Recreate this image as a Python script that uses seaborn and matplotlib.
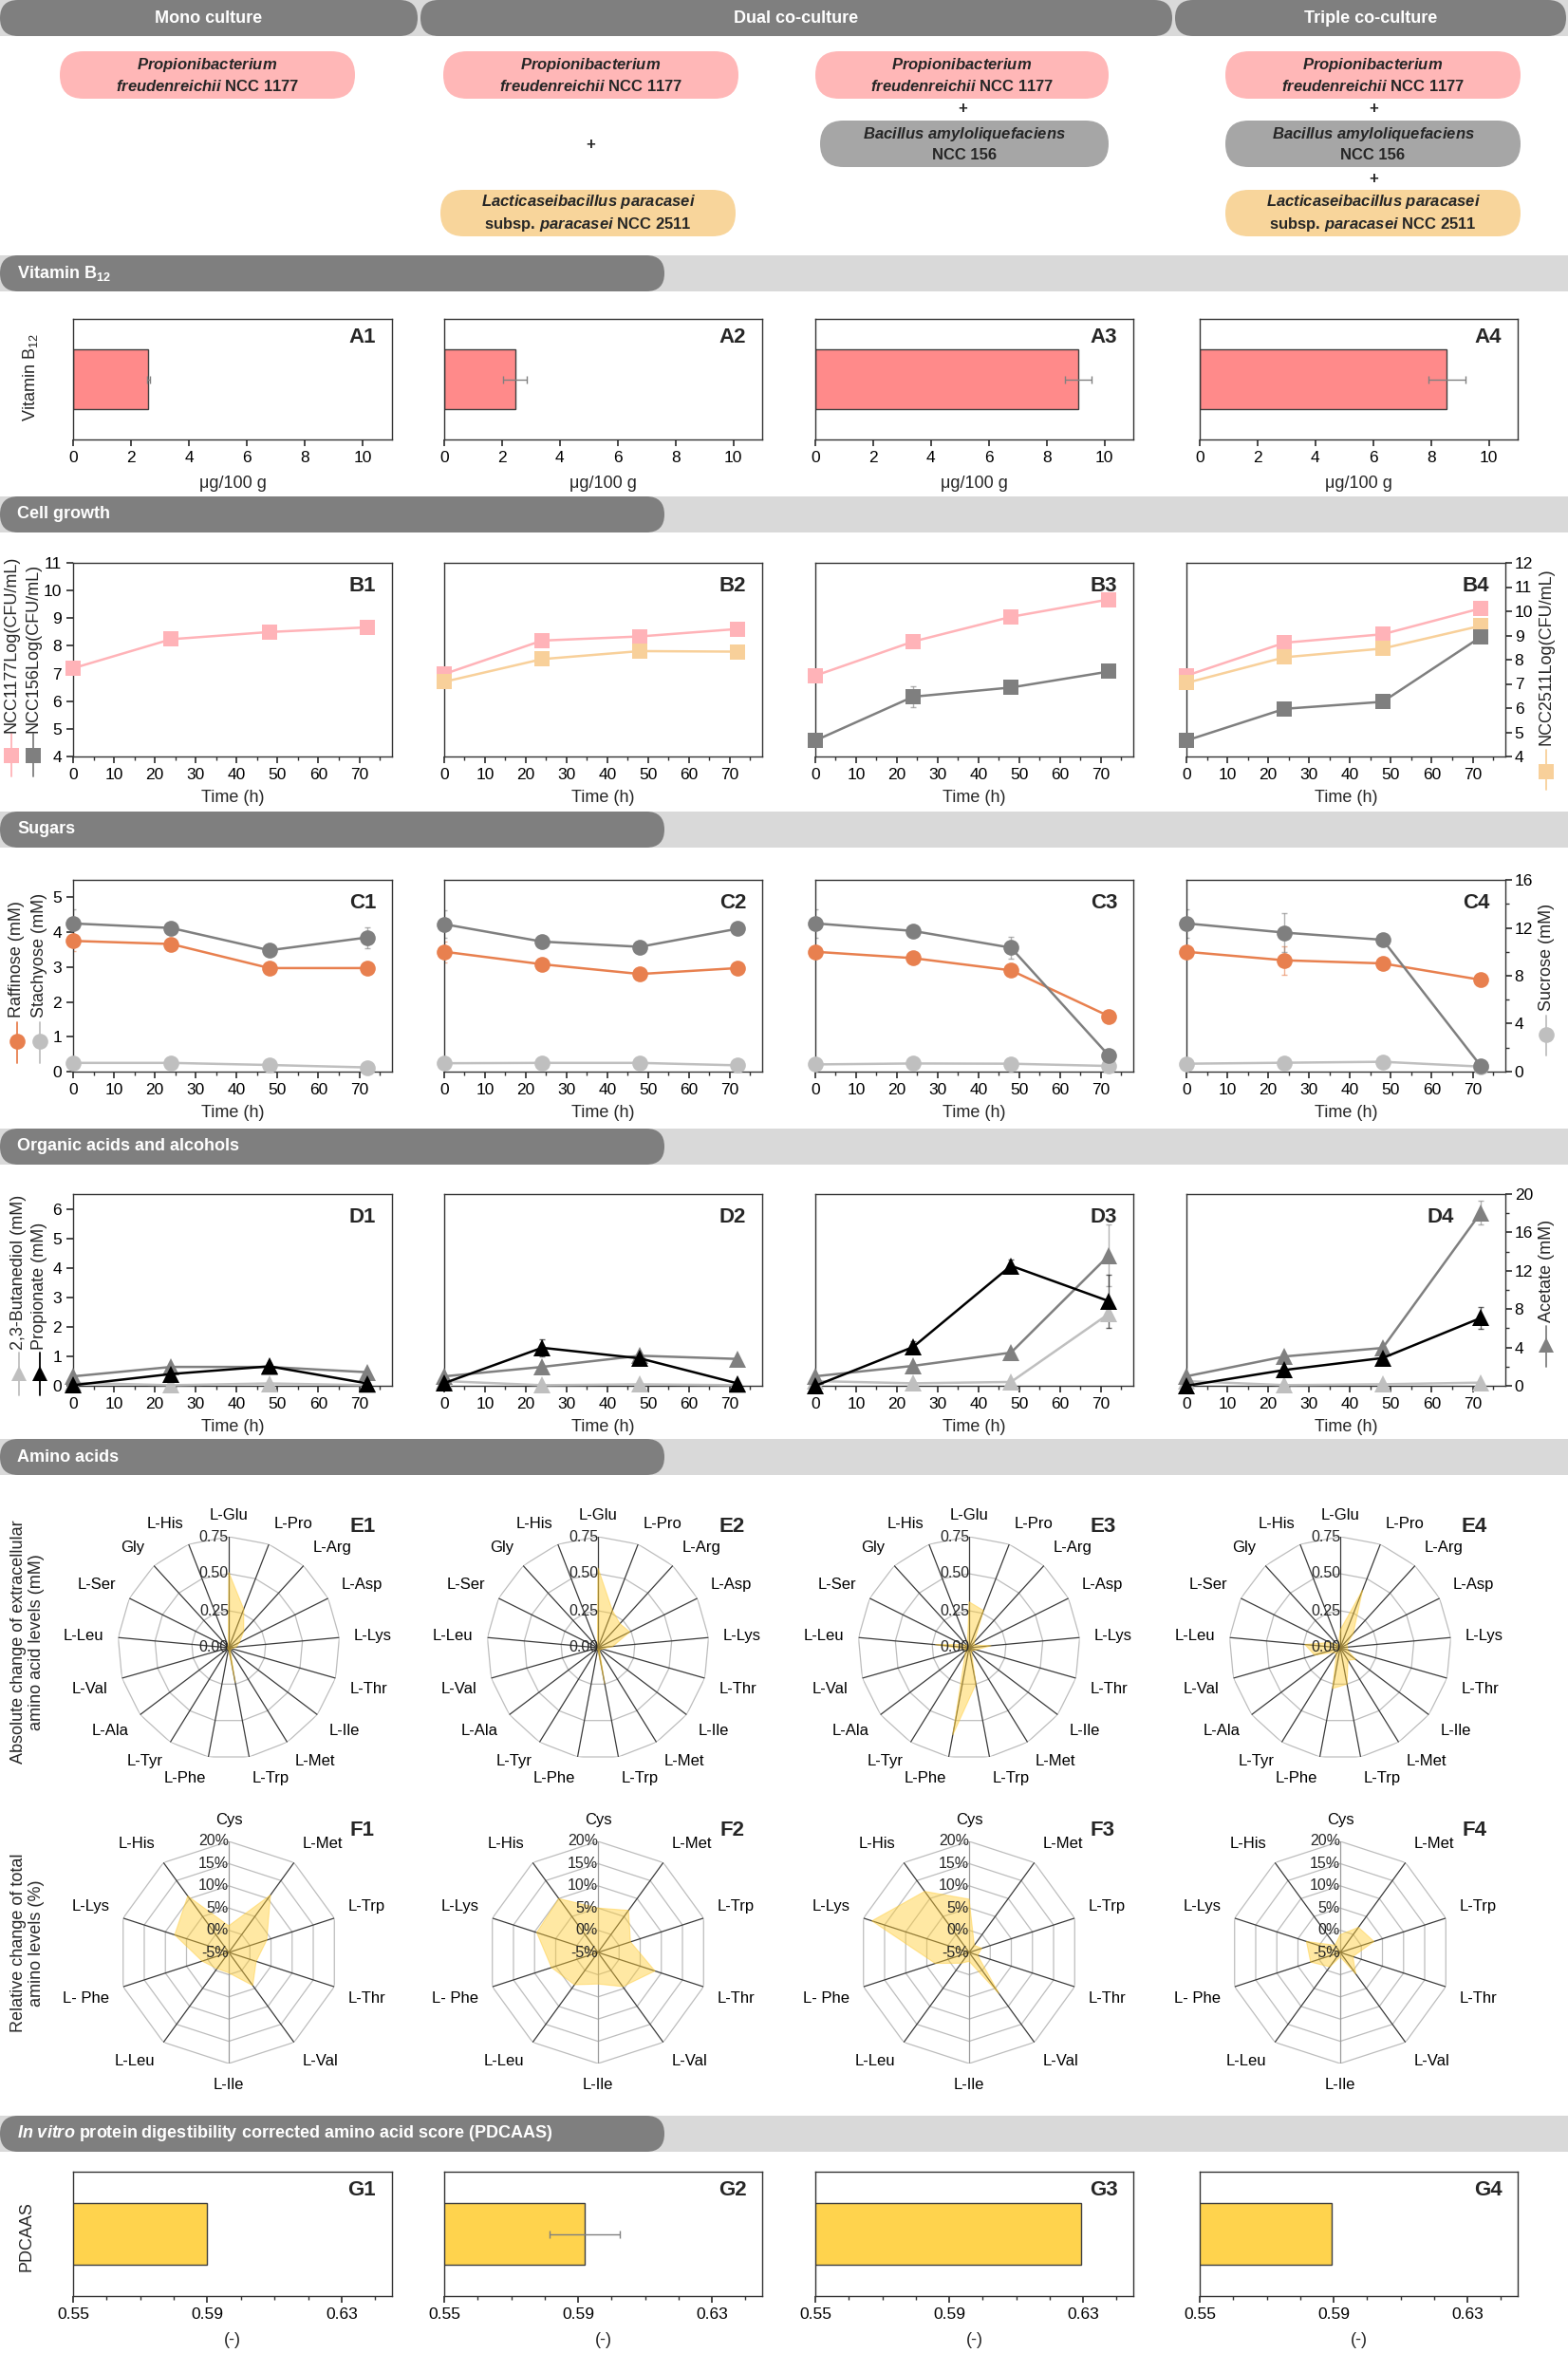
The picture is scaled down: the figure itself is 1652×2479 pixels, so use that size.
import numpy as np
import pandas as pd
import matplotlib
matplotlib.use("Agg")
import matplotlib.pyplot as plt
import seaborn as sns
from matplotlib.patches import FancyBboxPatch, Rectangle
from matplotlib.ticker import MultipleLocator, NullLocator, FormatStrFormatter

# ---------------- values ----------------
times = [0, 24, 48, 72]

# vitamin B12 (ug/100 g)
b12 = [2.6, 2.45, 9.1, 8.55]
b12_sd = [0.05, 0.4, 0.45, 0.65]

# cell growth, log CFU/mL
ncc1177 = [[7.19, 8.24, 8.50, 8.67], [6.98, 8.19, 8.34, 8.61],
           [7.34, 8.75, 9.77, 10.49], [7.34, 8.70, 9.05, 10.12]]
ncc156 = [None, None, [4.66, 6.47, 6.85, 7.51], [4.66, 5.97, 6.26, 8.94]]
ncc156_sd = [None, None, [0, 0.45, 0, 0], [0, 0, 0, 0]]
ncc2511 = [None, [6.70, 7.52, 7.81, 7.79], None, [7.04, 8.10, 8.46, 9.40]]

# sugars, mM
raffinose = [[3.75, 3.66, 2.97, 2.97], [3.44, 3.08, 2.80, 2.97],
             [10.0, 9.47, 8.45, 4.63], [10.0, 9.29, 9.03, 7.66]]
raffinose_sd = [[0.3, 0, 0, 0], [0.3, 0, 0, 0], [0.5, 0, 0, 0], [0.5, 1.2, 0.5, 0.5]]
stachyose = [[4.25, 4.12, 3.48, 3.85], [4.23, 3.73, 3.58, 4.10],
             [12.37, 11.74, 10.34, 1.34], [12.37, 11.60, 11.0, 0.47]]
stachyose_sd = [[0.4, 0, 0, 0.3], [0.4, 0, 0, 0], [1.2, 0, 0.9, 0], [1.2, 1.6, 0, 0]]
sucrose = [[0.25, 0.25, 0.19, 0.12], [0.24, 0.25, 0.25, 0.18],
           [0.60, 0.68, 0.66, 0.47], [0.66, 0.74, 0.82, 0.42]]

# organic acids and alcohols, mM
propionate = [[0.02, 0.40, 0.66, 0.08], [0.09, 1.29, 0.93, 0.08],
              [0.0, 4.05, 12.52, 8.83], [0.0, 1.65, 2.90, 7.08]]
propionate_sd = [[0, 0, 0, 0], [0, 0.3, 0, 0], [0, 0.6, 0.6, 2.8], [0, 0, 0.3, 1.1]]
acetate = [[0.32, 0.64, 0.64, 0.46], [0.32, 0.64, 1.02, 0.91],
           [0.99, 2.08, 3.46, 13.6], [0.99, 3.06, 3.95, 18.06]]
acetate_sd = [[0, 0, 0, 0], [0, 0, 0, 0], [0, 0, 0, 3.2], [0, 0, 0, 1.2]]
butanediol = [[0.10, 0.02, 0.08, 0.02], [0.16, 0.02, 0.05, 0.02],
              [0.49, 0.26, 0.40, 7.51], [0.49, 0.07, 0.16, 0.33]]

# amino acids: absolute change (mM)
aa_abs = ["L-Glu", "L-Pro", "L-Arg", "L-Asp", "L-Lys", "L-Thr", "L-Ile", "L-Met", "L-Trp",
          "L-Phe", "L-Tyr", "L-Ala", "L-Val", "L-Leu", "L-Ser", "Gly", "L-His"]
abs_e1 = [0.51, 0.28, 0.15, 0.08, 0.05, 0.02, 0.02, 0.02, 0.24, 0.01, 0.01, 0.01, 0.01, 0.01, 0.01, 0.01, 0.01]
abs_e2 = [0.54, 0.27, 0.22, 0.24, 0.10, 0.03, 0.02, 0.02, 0.25, 0.01, 0.01, 0.01, 0.01, 0.01, 0.01, 0.01, 0.01]
abs_e3 = [0.31, 0.27, 0.05, 0.04, 0.15, 0.05, 0.03, 0.03, 0.25, 0.60, 0.05, 0.03, 0.03, 0.23, 0.05, 0.02, 0.03]
abs_e4 = [0.12, 0.42, 0.13, 0.05, 0.05, 0.05, 0.13, 0.10, 0.25, 0.28, 0.05, 0.05, 0.18, 0.24, 0.08, 0.03, 0.03]

# amino acids: relative change of total levels (%)
aa_rel = ["Cys", "L-Met", "L-Trp", "L-Thr", "L-Val", "L-Ile", "L-Leu", "L- Phe", "L-Lys", "L-His"]
rel_f1 = [1.0, 11.0, 4.0, 1.5, 4.2, -0.4, -0.5, 1.3, 7.8, 10.7]
rel_f2 = [5.0, 6.7, 2.7, 8.5, 4.5, 2.1, 4.0, 6.0, 9.5, 10.0]
rel_f3 = [7.0, -3.0, -2.0, -3.0, 6.5, -3.0, -2.0, 3.0, 18.0, 12.0]
rel_f4 = [-1.0, 2.0, 3.0, -2.0, 1.0, -4.0, -1.0, 2.0, 3.0, -3.0]

# PDCAAS (-)
pdcaas = [0.590, 0.592, 0.6295, 0.5895]
pdcaas_sd = [0, 0.0105, 0, 0]

# ---------------- style ----------------
sns.set_theme(style="ticks")
plt.rcParams['font.family'] = ['Liberation Sans', 'DejaVu Sans']
plt.rcParams['mathtext.fontset'] = 'custom'
plt.rcParams['mathtext.rm'] = 'Liberation Sans'
plt.rcParams['mathtext.it'] = 'Liberation Sans:italic'
plt.rcParams['mathtext.bf'] = 'Liberation Sans:bold'
plt.rcParams['mathtext.bfit'] = 'Liberation Sans:italic:bold'
plt.rcParams.update({'axes.edgecolor': '#333333', 'axes.linewidth': 1.0,
                     'xtick.major.size': 5, 'ytick.major.size': 5,
                     'xtick.minor.size': 3, 'ytick.minor.size': 3,
                     'xtick.color': '#333333', 'ytick.color': '#333333',
                     'xtick.labelcolor': 'black', 'ytick.labelcolor': 'black'})

PINK, DGRAY, ORNG = '#FFB3B8', '#7F7F7F', '#F8D09A'
RAFF, LGRAY, MGRAY = '#E8804F', '#BFBFBF', '#808080'
W, H = 1652, 2479

fig = plt.figure(figsize=(W / 100, H / 100), dpi=100)
ov = fig.add_axes([0, 0, 1, 1])
ov.set_xlim(0, W)
ov.set_ylim(H, 0)
ov.axis('off')


def add_ax(x0, y0, x1, y1, **kw):
    return fig.add_axes([x0 / W, 1 - y1 / H, (x1 - x0) / W, (y1 - y0) / H], **kw)


def pill(x0, y0, x1, y1, color):
    h = y1 - y0
    ov.add_patch(FancyBboxPatch((x0, y0), x1 - x0, h, boxstyle=f"round,pad=0,rounding_size={h / 2}",
                                fc=color, ec='none'))


# ---------------- header ----------------
ov.add_patch(Rectangle((0, 0), W, 38, fc='#D9D9D9', ec='none'))
for (x0, x1), txt in zip([(0, 440), (443, 1235), (1238, 1650)],
                         ["Mono culture", "Dual co-culture", "Triple co-culture"]):
    pill(x0, 0, x1, 38, DGRAY)
    ov.text((x0 + x1) / 2, 19, txt, color='white', fontweight='bold', fontsize=13, ha='center', va='center')

P_FR = "$\\mathbfit{Propionibacterium}$\n$\\mathbfit{freudenreichii}$ NCC 1177"
L_PC = "$\\mathbfit{Lacticaseibacillus\\ paracasei}$\nsubsp. $\\mathbfit{paracasei}$ NCC 2511"
B_AM = "$\\mathbfit{Bacillus\\ amyloliquefaciens}$\nNCC 156"
boxes = [(63, 54, 374, 104, '#FFB7B7', P_FR),
         (467, 54, 778, 104, '#FFB7B7', P_FR), (464, 200, 775, 249, '#F8D59B', L_PC),
         (859, 54, 1168, 104, '#FFB7B7', P_FR), (864, 127, 1168, 176, '#A6A6A6', B_AM),
         (1291, 54, 1602, 104, '#FFB7B7', P_FR), (1291, 127, 1602, 176, '#A6A6A6', B_AM),
         (1291, 200, 1602, 249, '#F8D59B', L_PC)]
for x0, y0, x1, y1, c, txt in boxes:
    pill(x0, y0, x1, y1, c)
    ov.text((x0 + x1) / 2, (y0 + y1) / 2, txt, fontsize=12, fontweight='bold', ha='center',
            va='center', multialignment='center', linespacing=1.35)
for x, y in [(622, 153), (1014, 115), (1447, 115), (1447, 189)]:
    ov.text(x, y, "+", fontsize=12, fontweight='bold', ha='center', va='center')

sections = [("Vitamin B$_\\mathbf{12}$", 269, 307), ("Cell growth", 523, 561), ("Sugars", 855, 893),
            ("Organic acids and alcohols", 1189, 1227), ("Amino acids", 1516, 1554),
            ("$\\mathbfit{In\\ vitro}$ protein digestibility corrected amino acid score (PDCAAS)", 2229, 2267)]
for txt, y0, y1 in sections:
    ov.add_patch(Rectangle((0, y0), W, y1 - y0, fc='#D9D9D9', ec='none'))
    pill(0, y0, 700, y1, DGRAY)
    ov.text(18, (y0 + y1) / 2, txt, color='white', fontweight='bold', fontsize=13, va='center')

cols = [(77, 413), (468, 803), (859, 1194), (1264, 1599)]
# the time-course panels of the last column sit a bit further left (room for the right axis)
tcols = [(77, 413), (468, 803), (859, 1194), (1250, 1586)]


def tag(ax, s, x=0.95):
    ax.text(x, 0.93, s, transform=ax.transAxes, ha='right', va='top', fontsize=16, fontweight='bold')


def hbar(ax, val, sd, color, xlim, ticks, xlabel):
    ax.barh([0], [val], height=0.5, color=color, edgecolor='#404040', linewidth=1)
    if sd:
        ax.errorbar([val], [0], xerr=[sd], fmt='none', ecolor='#808080', elinewidth=1, capsize=3)
    ax.set_xlim(*xlim)
    ax.set_ylim(-0.5, 0.5)
    ax.set_xticks(ticks)
    ax.set_yticks([])
    ax.set_ylabel('')
    ax.set_xlabel(xlabel, fontsize=13, labelpad=8)
    ax.tick_params(axis='x', labelsize=12.5)


# ---------------- A: vitamin B12 ----------------
for i, (x0, x1) in enumerate(cols):
    ax = add_ax(x0, 336, x1, 463)
    hbar(ax, b12[i], b12_sd[i], '#FF8A8A', (0, 11), range(0, 11, 2), "μg/100 g")
    tag(ax, f"A{i + 1}")
ov.text(32, 398, "Vitamin B$_{12}$", rotation=90, ha='center', va='center', fontsize=13)


def series(ax, vals, sd, color, marker, ms):
    if vals is None:
        return
    sns.lineplot(x=times, y=vals, ax=ax, color=color, marker=marker, markersize=ms, markeredgewidth=0,
                 linewidth=1.8, errorbar=None, clip_on=False, zorder=3)
    if sd is not None and any(sd):
        ax.errorbar(times, vals, yerr=sd, fmt='none', ecolor=color, elinewidth=1, capsize=2.5,
                    alpha=0.6, zorder=2)


def frame(ax, i, ylim, major, minor):
    ax.set_xlim(0, 78)
    ax.xaxis.set_major_locator(MultipleLocator(10))
    ax.xaxis.set_minor_locator(MultipleLocator(5))
    ax.set_xlabel("Time (h)", fontsize=13, labelpad=6)
    ax.set_ylabel('')
    ax.set_ylim(*ylim)
    ax.yaxis.set_major_locator(MultipleLocator(major))
    ax.yaxis.set_minor_locator(MultipleLocator(minor) if minor else NullLocator())
    ax.tick_params(labelsize=12.5)
    if i == 3:
        ax.tick_params(axis='y', which='both', left=False, labelleft=False, right=True, labelright=True,
                       pad=2)
    elif i in (1, 2):
        ax.tick_params(axis='y', which='both', left=False, labelleft=False)


def side_label(x, y_bottom, text, color, marker, m_y, l0, l1):
    ov.text(x, y_bottom, text, rotation=90, ha='center', va='bottom', fontsize=13)
    ov.plot([x, x], [l0, l1], color=color, lw=1.3)
    ov.plot([x], [m_y], marker=marker, ms=12, color=color, mew=0)


# ---------------- B: cell growth ----------------
b_ylim = [((4, 11), 1, None), ((4, 11), 1, None), ((4, 12), 1, None), ((4, 12), 1, None)]
for i, (x0, x1) in enumerate(tcols):
    ax = add_ax(x0, 593, x1, 797)
    series(ax, ncc1177[i], None, PINK, 's', 11)
    series(ax, ncc2511[i], None, ORNG, 's', 11)
    series(ax, ncc156[i], ncc156_sd[i], DGRAY, 's', 11)
    lim, mj, mn = b_ylim[i]
    frame(ax, i, lim, mj, mn)
    tag(ax, f"B{i + 1}")
side_label(12, 772, "NCC1177Log(CFU/mL)", PINK, 's', 796, 773, 818)
side_label(35, 772, "NCC156Log(CFU/mL)", DGRAY, 's', 796, 773, 818)
side_label(1629, 785, "NCC2511Log(CFU/mL)", ORNG, 's', 813, 790, 832)

# ---------------- C: sugars ----------------
c_ylim = [((0, 5.5), 1, None), ((0, 5.5), 1, None), ((0, 16), 4, 2), ((0, 16), 4, 2)]
for i, (x0, x1) in enumerate(tcols):
    ax = add_ax(x0, 927, x1, 1129)
    series(ax, sucrose[i], None, LGRAY, 'o', 12)
    series(ax, raffinose[i], raffinose_sd[i], RAFF, 'o', 12)
    series(ax, stachyose[i], stachyose_sd[i], DGRAY, 'o', 12)
    lim, mj, mn = c_ylim[i]
    frame(ax, i, lim, mj, mn)
    tag(ax, f"C{i + 1}")
side_label(18, 1072, "Raffinose (mM)", RAFF, 'o', 1097, 1077, 1120)
side_label(42, 1072, "Stachyose (mM)", LGRAY, 'o', 1097, 1077, 1120)
side_label(1629, 1065, "Sucrose (mM)", LGRAY, 'o', 1090, 1070, 1112)

# ---------------- D: organic acids ----------------
d_ylim = [((0, 6.5), 1, None), ((0, 6.5), 1, None), ((0, 20), 4, 2), ((0, 20), 4, 2)]
for i, (x0, x1) in enumerate(tcols):
    ax = add_ax(x0, 1258, x1, 1460)
    series(ax, butanediol[i], None, LGRAY, '^', 13)
    series(ax, acetate[i], acetate_sd[i], MGRAY, '^', 13)
    series(ax, propionate[i], propionate_sd[i], 'black', '^', 13)
    lim, mj, mn = d_ylim[i]
    frame(ax, i, lim, mj, mn)
    tag(ax, f"D{i + 1}", x=0.84 if i == 3 else 0.95)
side_label(20, 1422, "2,3-Butanediol (mM)", LGRAY, '^', 1447, 1425, 1470)
side_label(42, 1422, "Propionate (mM)", 'black', '^', 1447, 1425, 1470)
side_label(1629, 1393, "Acetate (mM)", MGRAY, '^', 1417, 1397, 1440)


# ---------------- E / F: radar charts ----------------
def radar(cx, cy, labels, values, rlim, rings, tick_vals, tick_txt, name, light_spokes=()):
    R = 117
    ax = add_ax(cx - R, cy - R, cx + R, cy + R, projection='polar')
    n = len(labels)
    ang = np.linspace(0, 2 * np.pi, n, endpoint=False)
    closed = np.append(ang, ang[0])
    ax.set_theta_zero_location('N')
    ax.set_theta_direction(-1)
    ax.set_ylim(*rlim)
    ax.grid(False)
    ax.spines['polar'].set_visible(False)
    ax.set_facecolor('none')
    for r in rings:
        ax.plot(closed, [r] * (n + 1), color='#BDBDBD', lw=0.9, zorder=1)
    for k, a in enumerate(ang):
        ax.plot([a, a], list(rlim), color='#9A9A9A' if k in light_spokes else '#3A3A3A', lw=0.9, zorder=2)
    v = np.append(values, values[0])
    ax.fill(closed, v, color='#FFCC33', alpha=0.45, lw=0.8, zorder=3)
    ax.set_xticks(ang)
    ax.set_xticklabels(labels, fontsize=12)
    ax.tick_params(axis='x', length=0, pad=4)
    for a, lab in zip(ang, ax.get_xticklabels()):
        s, c = np.sin(a), np.cos(a)
        lab.set_ha('left' if s > 0.15 else 'right' if s < -0.15 else 'center')
        lab.set_va('bottom' if c > 0.15 else 'top' if c < -0.15 else 'center')
    ax.set_yticks([])
    for tv, tt in zip(tick_vals, tick_txt):
        ax.text(0, tv, tt, ha='right', va='center', fontsize=11.5, zorder=4)
    ov.text(cx + 141, cy - 128, name, ha='center', va='center', fontsize=16, fontweight='bold')


centers = [241, 630, 1021, 1412]
for i, vals in enumerate([abs_e1, abs_e2, abs_e3, abs_e4]):
    radar(centers[i], 1736, aa_abs, vals, (0, 0.75), [0.25, 0.5, 0.75],
          [0, 0.25, 0.5, 0.75], ["0.00", "0.25", "0.50", "0.75"], f"E{i + 1}")
for i, vals in enumerate([rel_f1, rel_f2, rel_f3, rel_f4]):
    radar(centers[i], 2057, aa_rel, vals, (-5, 20), [0, 5, 10, 15, 20],
          [-5, 0, 5, 10, 15, 20], ["-5%", "0%", "5%", "10%", "15%", "20%"], f"F{i + 1}",
          light_spokes=(0, 5))
ov.text(29, 1730, "Absolute change of extracellular\namino acid levels (mM)", rotation=90,
        ha='center', va='center', multialignment='center', fontsize=13, linespacing=1.1)
ov.text(29, 2047, "Relative change of total\namino levels (%)", rotation=90,
        ha='center', va='center', multialignment='center', fontsize=13, linespacing=1.1)

# ---------------- G: PDCAAS ----------------
for i, (x0, x1) in enumerate(cols):
    ax = add_ax(x0, 2288, x1, 2419)
    hbar(ax, pdcaas[i], pdcaas_sd[i], '#FFD34D', (0.55, 0.645), [0.55, 0.59, 0.63], "(-)")
    ax.xaxis.set_minor_locator(MultipleLocator(0.01))
    ax.xaxis.set_major_formatter(FormatStrFormatter('%.2f'))
    tag(ax, f"G{i + 1}")
ov.text(28, 2356, "PDCAAS", rotation=90, ha='center', va='center', fontsize=13)

fig.savefig("out.png", dpi=100, facecolor='white')
